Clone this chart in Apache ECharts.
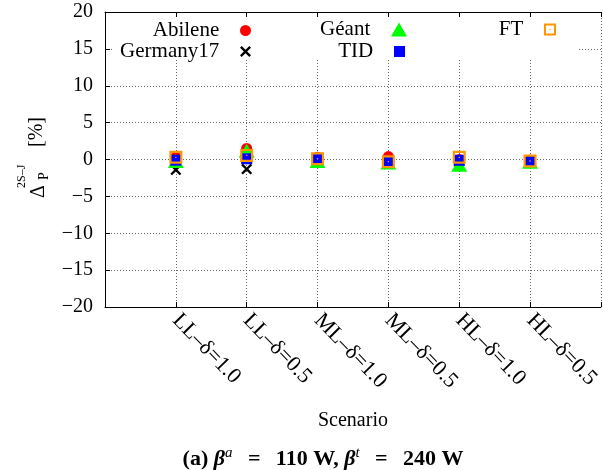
<!DOCTYPE html>
<html>
<head>
<meta charset="utf-8">
<script src="https://cdn.jsdelivr.net/npm/echarts@6/dist/echarts.min.js"></script>
<style>
  html, body { margin: 0; padding: 0; background: #fff; }
  #chart { width: 603px; height: 470px; }
</style>
</head>
<body>
<div id="chart"></div>
<script>
// scenarios on the x axis (placed at 1..6)
const scenarios = ['LL–δ=1.0', 'LL–δ=0.5', 'ML–δ=1.0', 'ML–δ=0.5', 'HL–δ=1.0', 'HL–δ=0.5']
const yTicks = [-20, -15, -10, -5, 0, 5, 10, 15, 20]

// Δ_P^{2S-J} [%] per topology
const abilene = [0.3, 1.5, 0.3, 0.4, 0.0, -0.1]
const germany17 = [-1.4, -1.3, -0.2, -0.6, -0.3, -0.2]
const geant = [-0.2, 1.2, -0.2, -0.4, -0.7, -0.3]
const tid = [-0.1, 0.1, 0.0, -0.3, -0.1, -0.2]
const ft = [0.3, 0.55, 0.1, -0.3, 0.3, -0.2]

const serif = "'Liberation Serif', 'DejaVu Serif', serif"
const crossPath = 'path://M0,1.5L1.5,0L5,3.5L8.5,0L10,1.5L6.5,5L10,8.5L8.5,10L5,6.5L1.5,10L0,8.5L3.5,5Z'
const openSqPath = 'path://M0,0H12V12H0Z M2,2V10H10V2Z M5.4,5.4H6.6V6.6H5.4Z'

const toPoints = arr => arr.map((v, i) => [i + 1, v])
const minus = v => (v < 0 ? '−' + Math.abs(v) : String(v))

const chart = echarts.init(document.getElementById('chart'))

const mk = (name, data, symbol, size, color) => ({
  name, type: 'scatter', data: toPoints(data), symbol, symbolSize: size,
  itemStyle: { color, opacity: 1 }, z: 3
})

// one legend per entry so that text is right-aligned like gnuplot's key
const legendItem = (name, right, top, icon, w, h) => ({
  data: [name], right, top, align: 'right', icon, itemWidth: w, itemHeight: h,
  formatter: n => n + '   ',
  textStyle: { fontFamily: serif, fontSize: 21, color: '#000' }
})

const eq = '\u2002\u2009=\u2002\u2009'

chart.setOption({
  animation: false,
  grid: { left: 105, top: 12, width: 500, height: 295 },
  legend: [
    legendItem('Abilene', 347, 15, 'circle', 11, 11),
    legendItem('Germany17', 347, 36, crossPath, 11, 11),
    legendItem('Géant', 191, 14, 'triangle', 16, 14),
    legendItem('TID', 193, 36, 'rect', 11, 11),
    legendItem('FT', 42, 14, openSqPath, 12, 12)
  ],
  xAxis: [{
    type: 'value', min: 0, max: 7, interval: 1,
    name: 'Scenario', nameLocation: 'middle', nameGap: 104,
    nameTextStyle: { fontFamily: serif, fontSize: 20, color: '#000' },
    axisLine: { onZero: false, lineStyle: { color: '#000', width: 1 } },
    axisTick: { inside: true, length: 5, lineStyle: { color: '#000' } },
    axisLabel: {
      rotate: -46, margin: 10, fontFamily: serif, fontSize: 22, color: '#000',
      formatter: v => scenarios[v - 1] || ''
    },
    splitLine: { show: true, lineStyle: { color: '#666', type: [1, 2], width: 1 } }
  }, {
    type: 'value', position: 'top', min: 0, max: 7, interval: 1,
    axisLine: { onZero: false, lineStyle: { color: '#000', width: 1 } },
    axisTick: { inside: true, length: 5, lineStyle: { color: '#000' } },
    axisLabel: { show: false }, splitLine: { show: false }
  }],
  yAxis: {
    type: 'value', min: yTicks[0], max: yTicks[yTicks.length - 1], interval: 5,
    axisLine: { show: true, onZero: false, lineStyle: { color: '#000', width: 1 } },
    axisTick: { inside: true, length: 5, lineStyle: { color: '#000' } },
    axisLabel: { margin: 12, fontFamily: serif, fontSize: 20, color: '#000', formatter: minus },
    splitLine: { show: true, lineStyle: { color: '#666', type: [1, 2], width: 1 } }
  },
  graphic: [
    // opaque key box
    { type: 'rect', z: 1, shape: { x: 112, y: 18, width: 466, height: 41 }, style: { fill: '#fff' } },
    // y axis title, rotated
    {
      type: 'group', x: 39, y: 160, rotation: Math.PI / 2,
      children: [
        { type: 'text', x: -38, y: 0, style: { text: 'Δ', font: '20px ' + serif, fill: '#000', align: 'left', verticalAlign: 'middle' } },
        { type: 'text', x: -20, y: 5, style: { text: 'P', font: '14px ' + serif, fill: '#000', align: 'left', verticalAlign: 'middle' } },
        { type: 'text', x: -28, y: -17, style: { text: '2S–J', font: '12px ' + serif, fill: '#000', align: 'left', verticalAlign: 'middle' } },
        { type: 'text', x: 13, y: -2, style: { text: '[%]', font: '20px ' + serif, fill: '#000', align: 'left', verticalAlign: 'middle' } }
      ]
    },
    // caption
    {
      type: 'text', x: 323, y: 459,
      style: {
        text: '(a) {b|β}{s|a}' + eq + '110 W, {b|β}{s|t}' + eq + '240 W',
        font: 'bold 22px ' + serif, fill: '#000', align: 'center', verticalAlign: 'middle',
        rich: {
          b: { fontFamily: serif, fontSize: 22, fontStyle: 'italic', fontWeight: 'bold', lineHeight: 28 },
          s: { fontFamily: serif, fontSize: 15, fontStyle: 'italic', lineHeight: 28, padding: [0, 0, 12, 0] }
        }
      }
    }
  ],
  series: [
    mk('Abilene', abilene, 'circle', 11, '#ff0000'),
    mk('Germany17', germany17, crossPath, 11, '#000000'),
    mk('Géant', geant, 'triangle', [16, 14], '#00ff00'),
    mk('TID', tid, 'rect', 11, '#0000ff'),
    mk('FT', ft, openSqPath, 13, '#ff9500')
  ]
})
</script>
</body>
</html>
